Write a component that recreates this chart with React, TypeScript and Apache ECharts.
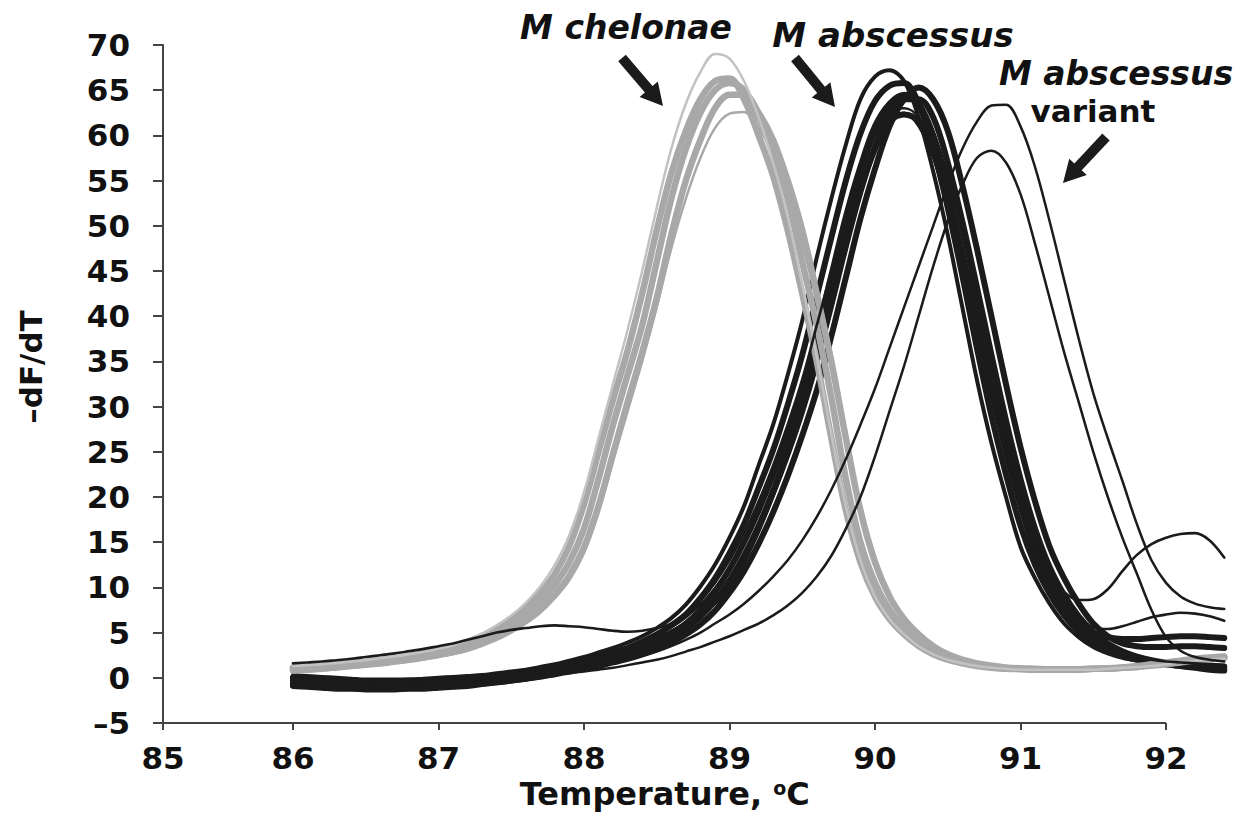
import React, { useEffect, useRef } from "react";
import * as echarts from "echarts";

// Temperature grid (°C)
const TEMPS = [
  86.0, 86.1, 86.2, 86.3, 86.4, 86.5, 86.6, 86.7, 86.8, 86.9,
  87.0, 87.1, 87.2, 87.3, 87.4, 87.5, 87.6, 87.7, 87.8, 87.9,
  88.0, 88.1, 88.2, 88.3, 88.4, 88.5, 88.6, 88.7, 88.8, 88.9,
  89.0, 89.1, 89.2, 89.3, 89.4, 89.5, 89.6, 89.7, 89.8, 89.9,
  90.0, 90.1, 90.2, 90.3, 90.4, 90.5, 90.6, 90.7, 90.8, 90.9,
  91.0, 91.1, 91.2, 91.3, 91.4, 91.5, 91.6, 91.7, 91.8, 91.9,
  92.0, 92.1, 92.2, 92.3, 92.4,
];

// M chelonae (grey) curves
const CHELONAE_LIGHT = [
  1.3, 1.4, 1.5, 1.65, 1.8, 1.95, 2.15, 2.35, 2.6, 2.9,
  3.2, 3.6, 4.2, 4.9, 5.8, 6.9, 8.3, 10.1, 12.5, 15.8,
  20.5, 26.5, 32.5, 38.5, 45, 52, 58.5, 63.5, 67, 69,
  68.5, 66, 62, 57, 51, 43.5, 35.5, 27, 19, 13,
  9.0, 6.5, 4.8, 3.5, 2.6, 2.0, 1.6, 1.3, 1.1, 1.0,
  0.9, 0.9, 0.9, 0.9, 0.9, 0.9, 1.0, 1.1, 1.2, 1.3,
  1.5, 1.7, 1.9, 2.0, 2.1,
];
const CHELONAE_A = [
  1.1, 1.2, 1.3, 1.45, 1.6, 1.75, 1.95, 2.15, 2.4, 2.7,
  3.0, 3.4, 3.95, 4.65, 5.45, 6.45, 7.75, 9.4, 11.5, 14.6,
  19.2, 25, 30.8, 36.2, 42.5, 49.5, 55.8, 60.5, 64, 66,
  66.3, 64, 60, 55.5, 49.5, 42.5, 35, 26.5, 18.5, 12.8,
  9.0, 6.5, 4.8, 3.5, 2.6, 2.0, 1.6, 1.3, 1.1, 1.0,
  0.95, 0.9, 0.9, 0.9, 0.95, 1.0, 1.05, 1.15, 1.3, 1.5,
  1.7, 1.9, 2.1, 2.25, 2.35,
];
const CHELONAE_B = [
  1.0, 1.1, 1.2, 1.35, 1.5, 1.65, 1.8, 2.0, 2.25, 2.5,
  2.8, 3.1, 3.6, 4.3, 5.0, 5.9, 7.0, 8.5, 10.3, 12.8,
  16.5, 22, 28, 33.5, 39, 46, 53, 58.5, 62.5, 65,
  65.8, 65, 62, 58, 53, 46, 39, 31, 22, 15,
  10.5, 7.5, 5.5, 4.0, 3.0, 2.2, 1.7, 1.4, 1.2, 1.0,
  1.0, 0.9, 0.9, 0.9, 0.9, 1.0, 1.0, 1.1, 1.2, 1.4,
  1.6, 1.8, 2.0, 2.2, 2.3,
];
const CHELONAE_C = [
  0.8, 0.9, 1.0, 1.15, 1.3, 1.45, 1.6, 1.8, 2.0, 2.25,
  2.55, 2.85, 3.25, 3.85, 4.55, 5.35, 6.35, 7.6, 9.2, 11.3,
  14.4, 19, 24.8, 30.5, 36, 42, 49, 55, 59.5, 63,
  64.5, 64.5, 62.5, 59.5, 55, 49.5, 42.5, 35, 26.5, 18.5,
  12.8, 9.0, 6.5, 4.8, 3.5, 2.6, 2.0, 1.6, 1.35, 1.15,
  1.05, 1.0, 0.95, 0.95, 0.95, 1.0, 1.05, 1.1, 1.2, 1.35,
  1.5, 1.7, 1.9, 2.05, 2.2,
];
const CHELONAE_D = [
  0.6, 0.7, 0.8, 0.95, 1.1, 1.25, 1.4, 1.6, 1.8, 2.05,
  2.3, 2.6, 3.0, 3.55, 4.2, 5.0, 6.0, 7.2, 8.8, 10.8,
  13.8, 18.3, 24, 29.5, 35, 41, 47.5, 53, 57.5, 60.8,
  62.4, 62.6, 60.8, 58, 53.5, 48, 41.5, 34, 26, 18,
  12.5, 8.8, 6.3, 4.6, 3.4, 2.5, 1.9, 1.5, 1.25, 1.1,
  1.0, 0.95, 0.9, 0.9, 0.9, 0.95, 1.0, 1.05, 1.15, 1.3,
  1.45, 1.65, 1.85, 2.0, 2.15,
];

// M abscessus (black) curves
const ABSCESSUS_A = [
  0.3, 0.2, 0.1, 0, -0.1, -0.2, -0.2, -0.2, -0.2, -0.1,
  0, 0.1, 0.2, 0.3, 0.5, 0.7, 0.9, 1.2, 1.5, 1.9,
  2.3, 2.8, 3.3, 3.9, 4.6, 5.5, 6.6, 8.1, 10.1, 12.5,
  15.5, 19, 23.5, 28, 33.5, 39.5, 46.5, 53, 59, 64,
  66.5, 67.2, 66, 62, 56, 49, 41, 33, 26, 20,
  14.5, 11, 8.2, 6.0, 4.5, 3.4, 2.7, 2.2, 1.9, 1.7,
  1.5, 1.4, 1.3, 1.2, 1.1,
];
const ABSCESSUS_F = [
  0.0, -0.1, -0.2, -0.3, -0.4, -0.4, -0.5, -0.5, -0.4, -0.4,
  -0.3, -0.2, -0.1, 0.0, 0.2, 0.4, 0.6, 0.9, 1.2, 1.5,
  1.9, 2.3, 2.8, 3.3, 4.0, 4.8, 5.8, 7.0, 8.8, 11,
  13.8, 17, 21, 25.2, 30.2, 35.7, 42.2, 48.7, 55, 60.2,
  63.8, 65.5, 65.8, 63.5, 58.5, 52, 44.5, 36.5, 29, 22.5,
  16.8, 12.5, 9.3, 6.9, 5.1, 3.8, 3.0, 2.4, 2.0, 1.7,
  1.5, 1.3, 1.2, 1.1, 1.0,
];
const ABSCESSUS_B = [
  -0.3, -0.4, -0.5, -0.6, -0.6, -0.7, -0.7, -0.7, -0.7, -0.6,
  -0.6, -0.5, -0.4, -0.3, -0.1, 0.1, 0.3, 0.5, 0.8, 1.1,
  1.4, 1.8, 2.2, 2.7, 3.3, 4.0, 4.9, 6.0, 7.5, 9.5,
  12, 15, 18.5, 22.5, 27, 32, 38, 44.5, 51, 56.5,
  61, 63.5, 64.5, 63.5, 60, 54, 47, 39.5, 32, 25,
  19, 14, 10.5, 7.8, 5.8, 4.3, 3.3, 2.6, 2.1, 1.8,
  1.5, 1.3, 1.1, 0.9, 0.8,
];
const ABSCESSUS_C = [
  -0.6, -0.7, -0.8, -0.9, -0.9, -1.0, -1.0, -1.0, -1.0, -0.9,
  -0.9, -0.8, -0.7, -0.6, -0.5, -0.3, -0.1, 0.2, 0.5, 0.8,
  1.2, 1.6, 2.0, 2.45, 3.0, 3.65, 4.45, 5.45, 6.75, 8.5,
  10.75, 13.5, 16.75, 20.5, 24.75, 29.5, 35, 41.25, 47.75, 53.75,
  58.75, 62.25, 64, 64, 62, 57, 50.5, 43.25, 35.75, 28.5,
  22, 16.5, 12.25, 9.15, 6.8, 5.05, 3.8, 2.95, 2.35, 1.95,
  1.7, 1.55, 1.45, 1.35, 1.25,
];
const ABSCESSUS_D = [
  0, -0.1, -0.2, -0.3, -0.3, -0.4, -0.4, -0.4, -0.3, -0.3,
  -0.2, -0.1, 0, 0.1, 0.3, 0.5, 0.7, 0.9, 1.1, 1.4,
  1.7, 2.0, 2.4, 2.9, 3.5, 4.2, 5.0, 5.9, 7.0, 8.4,
  10, 13, 16.5, 20.5, 25, 30, 36, 42, 48, 54,
  58.5, 61.5, 62.3, 61.5, 58.5, 53, 46.5, 39.5, 32, 25.5,
  19.5, 14.5, 11, 8.3, 6.3, 5.0, 4.5, 4.3, 4.3, 4.4,
  4.5, 4.6, 4.6, 4.5, 4.4,
];
const ABSCESSUS_E = [
  -0.9, -1.0, -1.1, -1.2, -1.2, -1.3, -1.3, -1.3, -1.2, -1.2,
  -1.1, -1.0, -0.9, -0.7, -0.5, -0.3, -0.1, 0.1, 0.4, 0.7,
  1.0, 1.3, 1.7, 2.1, 2.6, 3.2, 3.9, 4.8, 5.9, 7.4,
  9.4, 11.8, 14.8, 18.3, 22.3, 26.8, 31.8, 37.8, 44.3, 50.8,
  56.3, 61, 64, 65.3, 64, 60.5, 54.5, 47.5, 40, 32.5,
  25.5, 19.5, 14.5, 11, 8.2, 6.0, 4.6, 3.8, 3.5, 3.4,
  3.4, 3.5, 3.5, 3.4, 3.3,
];
const ABSCESSUS_SHOULDER = [
  1.6, 1.7, 1.8, 1.95, 2.1, 2.3, 2.5, 2.7, 2.95, 3.2,
  3.5, 3.8, 4.2, 4.6, 5.0, 5.3, 5.5, 5.7, 5.8, 5.7,
  5.6, 5.4, 5.2, 5.1, 5.2, 5.5, 6.0, 7.0, 8.5, 10.5,
  13, 16, 19.5, 23.5, 28, 33, 39, 45, 51, 56,
  60, 62.5, 63, 62, 58.5, 53, 46.5, 39.5, 32, 25.5,
  19.5, 14.5, 11, 8.2, 6.0, 4.5, 3.5, 2.8, 2.3, 2.0,
  1.8, 1.7, 1.6, 1.5, 1.4,
];
const ABSCESSUS_BUMP = [
  -0.5, -0.6, -0.7, -0.8, -0.8, -0.9, -0.9, -0.9, -0.8, -0.8,
  -0.7, -0.6, -0.5, -0.4, -0.2, 0, 0.2, 0.4, 0.7, 1.0,
  1.3, 1.7, 2.1, 2.6, 3.1, 3.8, 4.6, 5.6, 6.9, 8.6,
  10.8, 13.8, 17.2, 21.2, 25.7, 30.7, 36.7, 43, 49, 54.5,
  59, 61.8, 62.5, 61, 57.5, 52, 45.5, 38.5, 31, 24.5,
  19, 14.5, 11.5, 9.5, 8.6, 8.7, 9.8, 11.8, 13.6, 14.8,
  15.5, 15.9, 16.0, 15.2, 13.3,
];
const ABSCESSUS_TAIL = [
  0.2, 0.1, 0, -0.1, -0.2, -0.2, -0.3, -0.3, -0.3, -0.2,
  -0.2, -0.1, 0, 0.1, 0.3, 0.5, 0.7, 1.0, 1.3, 1.6,
  2.0, 2.4, 2.9, 3.4, 4.0, 4.7, 5.6, 6.7, 8.1, 9.9,
  12.2, 15, 18.3, 22.2, 26.5, 31.5, 37.3, 43.5, 49.8, 55.3,
  60, 63, 64.3, 63.5, 60.5, 55.5, 49, 41.5, 34, 27,
  21, 15.5, 11.5, 8.5, 6.5, 5.6, 5.4, 5.7, 6.2, 6.7,
  7.0, 7.2, 7.1, 6.8, 6.3,
];

// M abscessus variant curves
const VARIANT_A = [
  -0.5, -0.6, -0.7, -0.8, -0.8, -0.9, -0.9, -0.9, -0.8, -0.8,
  -0.7, -0.6, -0.5, -0.4, -0.2, 0, 0.2, 0.4, 0.6, 0.8,
  1.0, 1.3, 1.6, 2.0, 2.4, 2.9, 3.5, 4.2, 5.0, 6.0,
  7.0, 8.2, 9.6, 11.2, 13.0, 15.2, 17.8, 20.8, 24.2, 28,
  32, 36.5, 41, 45.5, 50, 54.5, 58.5, 61.5, 63.3, 63.4,
  61, 56.5, 50.5, 44, 37.5, 31.5, 26.5, 21.8, 17, 13,
  10.5, 9, 8.2, 7.8, 7.6,
];
const VARIANT_B = [
  -0.6, -0.7, -0.8, -0.9, -1.0, -1.0, -1.0, -1.0, -0.9, -0.9,
  -0.8, -0.7, -0.6, -0.5, -0.4, -0.2, 0, 0.2, 0.4, 0.5,
  0.7, 0.9, 1.1, 1.4, 1.7, 2.0, 2.4, 2.9, 3.4, 4.0,
  4.6, 5.3, 6.0, 6.9, 8.0, 9.4, 11.2, 13.5, 16.5, 20,
  24.5, 29.5, 34.5, 40, 45.5, 50.5, 54.5, 57.5, 58.3, 57,
  53.5, 48, 42, 36, 30.5, 25, 20, 15.5, 11.5, 7.5,
  4.5, 3.0, 2.3, 2.0, 1.8,
];

// Axis extents and ticks
const X_MIN = 85.107;
const X_AXIS_END = 92;
const X_MAX = 92.45;
const X_TICKS = [85.107, 86, 87, 88, 89, 90, 91, 92];
const Y_MIN = -5;
const Y_MAX = 70;

const FONT = '"DejaVu Sans", "Liberation Sans", Arial, sans-serif';
const BLACK = "#1b1b1b";
const GREY = "#a8a8a8";
const AXIS = "#444";

function arrow(x1: number, y1: number, x2: number, y2: number) {
  const dx = x2 - x1;
  const dy = y2 - y1;
  const L = Math.hypot(dx, dy);
  const ux = dx / L;
  const uy = dy / L;
  const nx = -uy;
  const ny = ux;
  const hl = 22;
  const sw = 5;
  const hw = 12;
  const bx = x2 - ux * hl;
  const by = y2 - uy * hl;
  return {
    type: "polygon",
    silent: true,
    shape: {
      points: [
        [x1 + nx * sw, y1 + ny * sw],
        [bx + nx * sw, by + ny * sw],
        [bx + nx * hw, by + ny * hw],
        [x2, y2],
        [bx - nx * hw, by - ny * hw],
        [bx - nx * sw, by - ny * sw],
        [x1 - nx * sw, y1 - ny * sw],
      ],
    },
    style: { fill: BLACK },
  };
}

function label(text: string, x: number, y: number, size: number, italic: boolean) {
  return {
    type: "text",
    x,
    y,
    silent: true,
    style: {
      text,
      fontFamily: FONT,
      fontWeight: "bold",
      fontStyle: italic ? "italic" : "normal",
      fontSize: size,
      lineHeight: size,
      fill: "#111",
      align: "center",
      verticalAlign: "middle",
    },
  };
}

export default function App() {
  const ref = useRef<HTMLDivElement>(null);

  useEffect(() => {
    if (!ref.current) return;
    const chart = echarts.init(ref.current, null, { renderer: "svg" });

    const line = (name: string, vals: number[], color: string, width: number) => ({
      type: "line",
      name,
      data: TEMPS.map((t, i) => [t, vals[i]]),
      showSymbol: false,
      symbol: "none",
      smooth: 0.35,
      silent: true,
      lineStyle: { color, width, cap: "round", join: "round" },
    });

    const first: any = line("M abscessus E", ABSCESSUS_E, BLACK, 6);
    first.markLine = {
      silent: true,
      symbol: ["none", "none"],
      label: { show: false },
      lineStyle: { color: AXIS, width: 2, type: "solid" },
      data: [[{ coord: [X_MIN, Y_MIN] }, { coord: [X_AXIS_END, Y_MIN] }]],
    };

    const series = [
      first,
      line("M abscessus C", ABSCESSUS_C, BLACK, 6),
      line("M abscessus D", ABSCESSUS_D, BLACK, 6),
      line("M abscessus B", ABSCESSUS_B, BLACK, 6),
      line("M abscessus F", ABSCESSUS_F, BLACK, 6),
      line("M abscessus A", ABSCESSUS_A, BLACK, 4),
      line("M abscessus bump", ABSCESSUS_BUMP, BLACK, 2.6),
      line("M abscessus tail", ABSCESSUS_TAIL, BLACK, 2.6),
      line("M chelonae C", CHELONAE_C, GREY, 6.5),
      line("M chelonae D", CHELONAE_D, GREY, 2.5),
      line("M chelonae B", CHELONAE_B, GREY, 6.5),
      line("M chelonae A", CHELONAE_A, GREY, 6.5),
      line("M chelonae light", CHELONAE_LIGHT, "#c2c2c2", 2.5),
      line("M abscessus shoulder", ABSCESSUS_SHOULDER, BLACK, 2.6),
      line("M abscessus variant A", VARIANT_A, BLACK, 2.5),
      line("M abscessus variant B", VARIANT_B, BLACK, 2.5),
    ];

    const axisFontStyle = {
      fontFamily: FONT,
      fontWeight: "bold",
      fontSize: 31,
      color: "#111",
    };

    chart.setOption({
      animation: false,
      backgroundColor: "#ffffff",
      grid: { left: 163, right: 10.5, top: 45, bottom: 815 - 726, containLabel: false },
      xAxis: {
        type: "value",
        min: X_MIN,
        max: X_MAX,
        axisLine: { show: false, onZero: false },
        axisTick: {
          show: true,
          length: 7,
          customValues: X_TICKS,
          lineStyle: { color: AXIS, width: 2 },
        },
        splitLine: { show: false },
        axisLabel: {
          margin: 19,
          customValues: X_TICKS,
          formatter: (v: number) => (v > X_AXIS_END + 0.1 ? "" : String(Math.round(v))),
          ...axisFontStyle,
        },
        name: "Temperature, {sup|o}C",
        nameLocation: "middle",
        nameGap: 71,
        nameTextStyle: {
          fontFamily: FONT,
          fontWeight: "bold",
          fontSize: 32,
          color: "#111",
          verticalAlign: "middle",
          padding: [0, 65, 0, 0],
          rich: {
            sup: {
              fontFamily: FONT,
              fontWeight: "bold",
              fontSize: 19,
              color: "#111",
              verticalAlign: "top",
            },
          },
        },
      },
      yAxis: {
        type: "value",
        min: Y_MIN,
        max: Y_MAX,
        interval: 5,
        axisLine: { show: true, onZero: false, lineStyle: { color: AXIS, width: 2 } },
        axisTick: { show: true, length: 10, lineStyle: { color: AXIS, width: 2 } },
        splitLine: { show: false },
        axisLabel: {
          margin: 33,
          formatter: (v: number) => (v < 0 ? "\u2013" + Math.abs(v) : String(v)),
          ...axisFontStyle,
        },
      },
      series,
      graphic: [
        {
          type: "text",
          x: 31,
          y: 367,
          rotation: Math.PI / 2,
          silent: true,
          style: {
            text: "\u2013dF/dT",
            fontFamily: FONT,
            fontWeight: "bold",
            fontSize: 31,
            fill: "#111",
            align: "center",
            verticalAlign: "middle",
          },
        },
        label("M chelonae", 626, 27, 33, true),
        label("M abscessus", 893, 35, 34, true),
        label("M abscessus", 1116, 73, 33, true),
        label("variant", 1093, 111, 31, false),
        arrow(622, 58, 663, 106),
        arrow(795, 58, 835, 107),
        arrow(1106, 137, 1063, 183),
      ],
    });

    return () => chart.dispose();
  }, []);

  return (
    <div
      ref={ref}
      style={{ position: "fixed", left: 0, top: 0, width: 1242, height: 815, background: "#fff" }}
    />
  );
}
